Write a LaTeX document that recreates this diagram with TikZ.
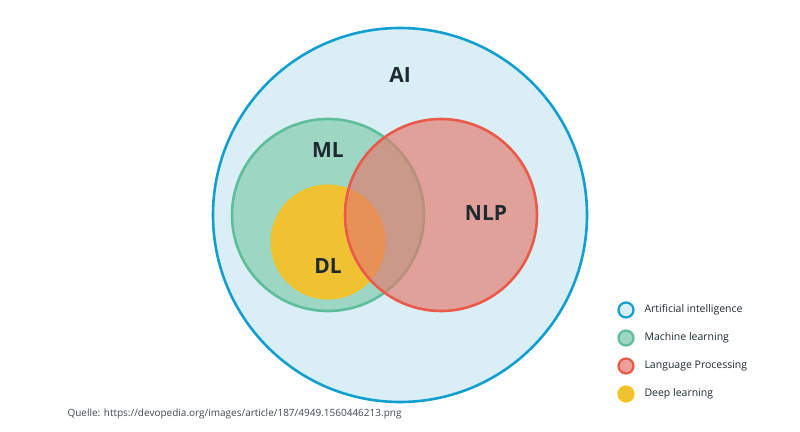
\documentclass[tikz,border=0pt]{standalone}
\usepackage{fontspec}
\setmainfont{Open Sans}
\definecolor{aifill}{HTML}{DAEFF5}
\definecolor{aidraw}{HTML}{129FCF}
\definecolor{mlfill}{HTML}{9DD7C4}
\definecolor{mldraw}{HTML}{5EBE9A}
\definecolor{nlpfill}{HTML}{E4786A}
\definecolor{nlpdraw}{HTML}{EA5A4B}
\definecolor{dlfill}{HTML}{F0C232}
\definecolor{dldraw}{HTML}{F5C21E}
\definecolor{txt}{HTML}{1E2A30}
\begin{document}
\begin{tikzpicture}[x=1pt,y=-1pt,
  lbl/.style={font=\fontsize{21}{21}\selectfont\bfseries, text=txt},
  leg/.style={circle, minimum size=15pt, inner sep=0pt, line width=2.2pt},
  legtxt/.style={anchor=west, font=\fontsize{10.5}{12}\selectfont, text=txt}]
\useasboundingbox (0,0) rectangle (800,431);
\fill[white] (0,0) rectangle (800,431);
\draw[aidraw, fill=aifill, line width=2.6pt] (400,215) circle (187);
\draw[mldraw, fill=mlfill, line width=2.6pt] (328,215) circle (96);
\draw[dldraw, fill=dlfill, line width=1pt] (328,242) circle (57);
\draw[nlpdraw, fill=nlpfill, fill opacity=0.65, line width=2.6pt] (441,215) circle (96);
\node[lbl] (ai) at (400,75) {AI};
\node[lbl] (ml) at (328,150) {ML};
\node[lbl] (nlp) at (486,213) {NLP};
\node[lbl] (dl) at (328,266) {DL};
\node[leg, draw=aidraw, fill=aifill] (l1) at (626,310) {};
\node[leg, draw=mldraw, fill=mlfill] (l2) at (626,338) {};
\node[leg, draw=nlpdraw, fill=nlpfill!70] (l3) at (626,366) {};
\node[leg, draw=dldraw, fill=dlfill] (l4) at (626,394) {};
\node[legtxt] (t1) at (641,310) {Artificial intelligence};
\node[legtxt] (t2) at (641,338) {Machine learning};
\node[legtxt] (t3) at (641,366) {Language Processing};
\node[legtxt] (t4) at (641,394) {Deep learning};
\node[anchor=west, font=\fontsize{10}{12}\selectfont, text=txt!85] (src) at (64,414) {Quelle: https://devopedia.org/images/article/187/4949.1560446213.png};
\end{tikzpicture}
\end{document}
